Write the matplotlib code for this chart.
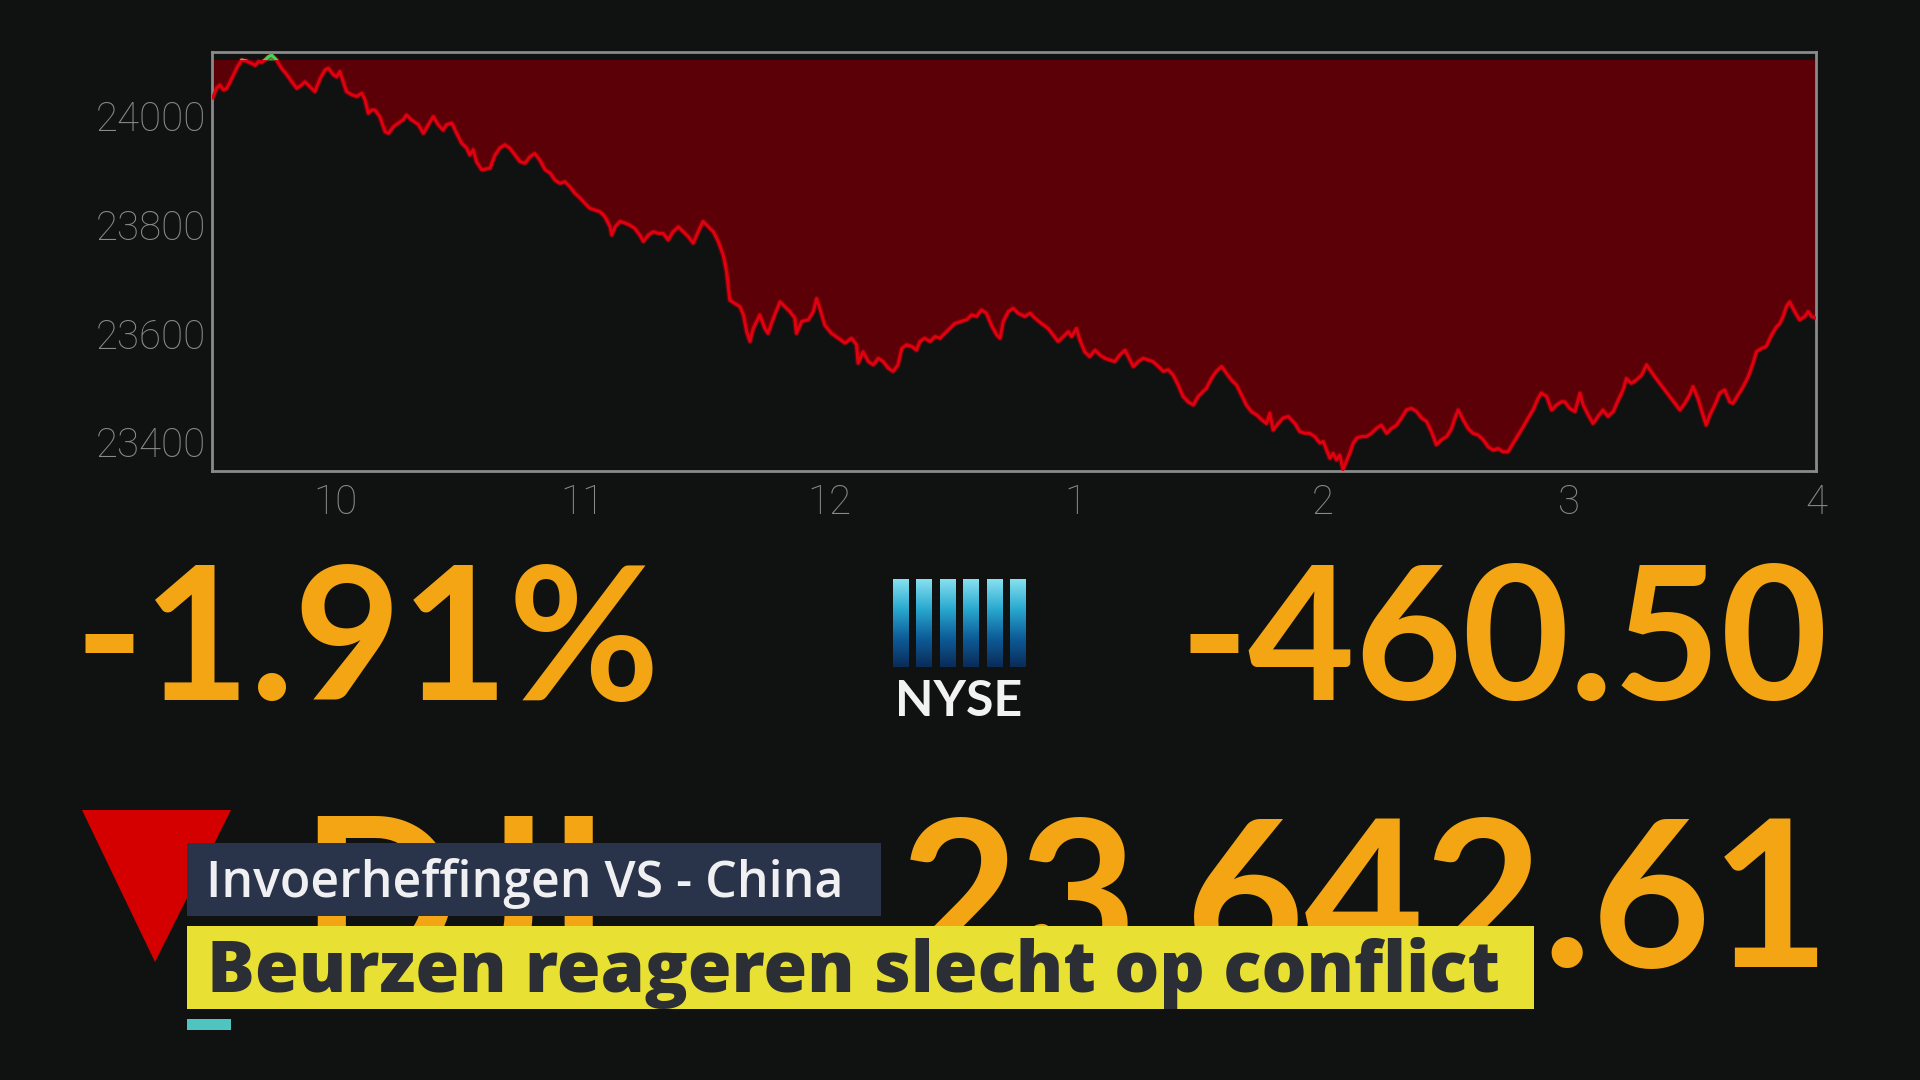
import numpy as np
import matplotlib
matplotlib.use('Agg')
import matplotlib.pyplot as plt
from matplotlib.patches import Rectangle, Polygon
from matplotlib.colors import LinearSegmentedColormap

# ---------------- data ----------------
# minutes after the 9:30 open, and Dow Jones level
minutes = [
    0.1, 1.1, 1.9, 2.8, 3.6, 4.8, 6.0, 7.2, 8.4, 9.6, 10.5, 11.3, 12.1, 12.9, 13.7, 14.5, 15.7, 16.9,
    18.2, 19.4, 20.6, 21.8, 22.6, 23.8, 25.0, 26.3, 27.5, 28.3, 29.5, 30.3, 31.1, 31.9, 32.7, 34.0,
    35.2, 36.4, 37.2, 38.0, 38.8, 39.6, 40.8, 42.1, 42.9, 44.1, 45.3, 46.5, 47.3, 48.5, 50.2, 51.4,
    52.6, 53.8, 55.0, 56.2, 57.0, 58.3, 59.5, 60.7, 61.9, 62.7, 63.5, 64.3, 65.6,
    67.6, 68.8, 70.0, 71.2, 72.4, 73.7, 74.9, 76.1, 77.3, 78.5, 79.7, 81.0, 82.2, 83.4, 84.6, 85.8,
    87.0, 88.2, 89.5, 90.7, 91.9, 93.1, 94.3, 95.5, 96.8, 97.2, 98.0, 99.2, 100.4, 101.6, 102.8,
    104.0, 104.9, 106.1, 107.3, 108.5, 109.7, 110.9, 112.1, 113.4, 114.6, 115.8, 117.0, 118.2,
    119.4, 120.7, 121.9, 123.1, 124.3, 125.1, 125.9, 127.1, 128.4, 129.2, 130.0, 130.8,
    131.6, 133.2, 134.4, 135.2, 136.5, 138.1, 139.3, 140.5, 141.7, 142.1, 143.4, 145.0, 146.2,
    147.0, 147.8, 149.0, 150.6, 152.3, 153.9, 155.5, 156.7, 157.1, 158.3, 159.6, 160.8, 162.0,
    163.2, 164.4, 165.6, 166.8, 167.7, 168.9, 170.1, 171.3, 172.1, 173.3, 174.5, 175.8, 177.0,
    178.2, 179.4, 180.6, 182.2, 183.5, 184.7, 185.9, 187.1, 188.3, 189.5, 190.8, 191.6, 192.4,
    193.6, 194.8, 196.0,
    197.6, 198.9, 200.1, 201.7, 203.3, 204.5, 205.7, 207.0, 208.2, 209.0, 210.2, 211.0, 212.2,
    213.4, 214.7, 215.9, 217.1, 218.3, 219.5, 220.7, 222.0, 223.2, 224.0, 225.2, 226.4, 227.6,
    228.8, 230.1, 231.3, 232.5, 233.7, 234.9, 236.1, 237.3, 238.6, 239.8, 240.6, 241.8, 243.0,
    244.2, 245.5, 246.7, 247.9, 249.1, 250.3, 251.5, 252.7, 254.0, 255.2, 256.4, 257.2, 258.0,
    259.2, 260.4, 261.7,
    263.3, 264.5, 265.7, 266.9, 268.1, 269.4, 270.2, 271.0, 271.8, 272.6, 273.4, 274.2, 275.0,
    275.8, 276.6, 277.5, 278.3, 279.5, 280.7, 281.9, 283.1, 284.3, 285.6, 286.8, 288.0, 289.2,
    290.4, 291.6, 292.9, 294.1, 295.3, 296.5, 297.7, 298.9, 300.2, 301.4, 302.2, 303.0, 304.2,
    305.4, 306.6, 307.8, 309.1, 310.3, 311.5, 312.7, 313.9, 315.1, 316.4, 317.6, 318.8, 320.0,
    321.2, 322.4, 323.2, 324.5, 325.7, 326.9, 328.1,
    328.9, 330.1, 331.4, 332.6, 333.4, 334.6, 335.8, 337.0, 338.2, 339.4, 340.7, 341.9, 343.1,
    343.9, 345.1, 346.3, 347.6, 348.8, 349.6, 350.8, 352.0, 353.2, 354.4, 355.7, 356.9, 358.1,
    359.3, 360.1, 361.3, 362.5, 363.3, 364.2, 365.4, 366.6, 367.8, 369.0, 369.8, 371.1, 372.3,
    373.5, 374.7, 375.5, 376.7, 377.9, 379.2, 380.4, 381.2, 382.0, 382.8, 383.6, 384.8, 386.0,
    387.3, 388.1, 388.9, 390.0,
]
values = [
    24033, 24051, 24057, 24048, 24051, 24069, 24088, 24103, 24101, 24097, 24093, 24100, 24099, 24103, 24109, 24112, 24103, 24088,
    24076, 24063, 24051, 24057, 24063, 24054, 24045, 24069, 24085, 24088, 24076, 24072, 24082, 24063, 24045, 24039,
    24036, 24042, 24030, 24005, 24011, 24011, 23999, 23971, 23968, 23980, 23987, 23993, 24002, 23993, 23984, 23968,
    23984, 23999, 23984, 23974, 23984, 23987, 23968, 23950, 23941, 23928, 23938, 23916, 23901,
    23904, 23928, 23941, 23947, 23941, 23928, 23916, 23913, 23925, 23931, 23919, 23901, 23895, 23882, 23876, 23879,
    23870, 23858, 23849, 23839, 23830, 23827, 23824, 23815, 23796, 23781, 23796, 23806, 23803, 23799, 23793,
    23781, 23769, 23781, 23787, 23784, 23784, 23772, 23787, 23796, 23787, 23778, 23766, 23787,
    23806, 23796, 23787, 23769, 23744, 23714, 23661, 23655, 23649, 23634, 23603, 23585,
    23609, 23634, 23609, 23600, 23628, 23658, 23649, 23640, 23628, 23600, 23622, 23625, 23640,
    23664, 23646, 23615, 23600, 23591, 23582, 23591, 23579, 23545, 23566, 23548, 23542, 23554,
    23548, 23536, 23530, 23542, 23572, 23579, 23576, 23569, 23585, 23591, 23585, 23594, 23591,
    23600, 23609, 23618, 23622, 23625, 23634, 23631, 23643, 23637, 23615, 23597, 23591, 23622,
    23640, 23646, 23637,
    23631, 23637, 23628, 23618, 23609, 23597, 23585, 23594, 23603, 23594, 23609, 23588, 23566,
    23557, 23569, 23560, 23554, 23551, 23548, 23560, 23569, 23551, 23539, 23548, 23554, 23551,
    23548, 23539, 23530, 23533, 23523, 23505, 23484, 23474, 23468, 23484, 23490, 23499, 23517,
    23530, 23539, 23526, 23514, 23505, 23487, 23468, 23456, 23450, 23441, 23434, 23453, 23422,
    23434, 23444, 23447,
    23434, 23419, 23416, 23416, 23410, 23398, 23401, 23385, 23370, 23379, 23367, 23376, 23349,
    23364, 23379, 23398, 23407, 23410, 23410, 23416, 23425, 23431, 23416, 23425, 23431, 23444,
    23459, 23462, 23456, 23444, 23438, 23419, 23395, 23404, 23410, 23425, 23444, 23459, 23441,
    23425, 23416, 23413, 23404, 23391, 23385, 23388, 23382, 23382, 23398, 23413, 23428, 23444,
    23459, 23480, 23490, 23484, 23459, 23468, 23474,
    23474, 23462, 23456, 23490, 23468, 23450, 23434, 23447, 23459, 23447, 23456, 23477, 23496,
    23517, 23508, 23514, 23523, 23542, 23533, 23520, 23508, 23496, 23484, 23471, 23459, 23471,
    23487, 23502, 23480, 23450, 23431, 23450, 23468, 23490, 23496, 23474, 23471, 23487, 23502,
    23520, 23545, 23566, 23572, 23576, 23597, 23612, 23618, 23631, 23649, 23658, 23640, 23625,
    23631, 23640, 23631, 23628,
]
prev_close = 24103.11
y_ticks = [23400, 23600, 23800, 24000]
x_ticks = [10, 11, 12, 13, 14, 15, 16]
x_tick_labels = ['10', '11', '12', '1', '2', '3', '4']
pct_change = '-1.91%'
pt_change = '-460.50'
index_name = 'DJI'
index_level = '23,642.61'
exchange = 'NYSE'
topic = 'Invoerheffingen VS - China'
headline = 'Beurzen reageren slecht op conflict'

# ---------------- style ----------------
plt.rcParams['font.family'] = ['Lato', 'DejaVu Sans']
BG = '#101211'
ORANGE = '#f3a514'
W, H = 1920, 1080

hours = 9.5 + np.array(minutes) / 60.0
vals = np.array(values, dtype=float)

fig = plt.figure(figsize=(19.2, 10.8), dpi=100, facecolor=BG)

# ---------------- chart ----------------
ax = fig.add_axes([212 / W, 1 - 471 / H, (1816 - 212) / W, (471 - 52) / H])
ax.set_facecolor(BG)
ax.fill_between(hours, vals, prev_close, where=vals <= prev_close, interpolate=True,
                color='#5a0006', lw=0, zorder=1)
ax.fill_between(hours, vals, prev_close, where=vals >= prev_close, interpolate=True,
                color='#2fb24a', lw=0, zorder=1)
ax.plot(hours, vals, color='#b0000c', lw=4.0, alpha=0.45, zorder=2, solid_joinstyle='round')
ax.plot(hours, vals, color='#e0000f', lw=2.2, zorder=3, solid_joinstyle='round')
gl, = ax.plot(hours, vals, color='#3fd45a', lw=2.3, zorder=4)
gl.set_clip_path(Rectangle((9.5, prev_close), 6.5, 200, transform=ax.transData))

ax.set_xlim(9.5, 16)
ax.set_ylim(23346.6, 24117.8)
ax.set_xticks(x_ticks)
ax.set_xticklabels(x_tick_labels)
ax.set_yticks(y_ticks)
ax.set_yticklabels([str(v) for v in y_ticks])
ax.tick_params(axis='both', length=0, colors='#8a8a8a', labelsize=29)
ax.tick_params(axis='x', pad=9)
ax.tick_params(axis='y', pad=4)
for lab in ax.get_xticklabels() + ax.get_yticklabels():
    lab.set_family(['Roboto', 'DejaVu Sans'])
    lab.set_fontweight('light')
for sp in ax.spines.values():
    sp.set_color('#8a8a8a')
    sp.set_linewidth(2)

# ---------------- overlay (ticker board + lower third) ----------------
ov = fig.add_axes([0, 0, 1, 1], zorder=5)
ov.set_xlim(0, W)
ov.set_ylim(H, 0)
ov.axis('off')
ov.patch.set_alpha(0)

ov.text(367, 700, pct_change, color=ORANGE, fontsize=133, fontweight='bold',
        ha='center', va='baseline', zorder=2)
ov.text(1828, 700, pt_change, color=ORANGE, fontsize=133, fontweight='bold',
        ha='right', va='baseline', zorder=2)

# NYSE logo
cmap = LinearSegmentedColormap.from_list('nyse', ['#86e0f0', '#2aaad0', '#0d5e9a', '#0a2c58'])
grad = np.linspace(0, 1, 100).reshape(-1, 1)
bw, gap, x0 = 16, 7.4, 893
for i in range(6):
    xl = x0 + i * (bw + gap)
    ov.imshow(grad, cmap=cmap, extent=(xl, xl + bw, 667, 579), origin='upper',
              aspect='auto', zorder=2)
ov.text(959, 716, exchange, color='#f2f2f2', fontsize=36, fontweight='bold',
        ha='center', va='baseline', zorder=2)

# index line (partly covered by the lower third)
ov.add_patch(Polygon([(82, 810), (231, 810), (155, 962)], closed=True,
                     color='#d40000', lw=0, zorder=2))
ov.text(300, 967, index_name, color=ORANGE, fontsize=150, fontweight='bold',
        ha='left', va='baseline', zorder=2)
ov.text(1830, 967, index_level, color=ORANGE, fontsize=148, fontweight='bold',
        ha='right', va='baseline', zorder=2)

# lower third
ov.add_patch(Rectangle((187, 843), 694, 73, color='#29344a', lw=0, zorder=6))
ov.text(206, 897, topic, color='#f0f0f2', fontsize=36, fontweight='semibold',
        family=['Open Sans', 'Lato', 'DejaVu Sans'],
        ha='left', va='baseline', zorder=7)
ov.add_patch(Rectangle((187, 926), 1347, 83, color='#e8e033', lw=0, zorder=6))
ov.text(207, 992, headline, color='#2c2e35', fontsize=51, fontweight='extra bold',
        family=['Open Sans', 'Lato', 'DejaVu Sans'],
        ha='left', va='baseline', zorder=7)
ov.add_patch(Rectangle((187, 1019), 44, 11, color='#4ec5c1', lw=0, zorder=6))

ov.set_xlim(0, W)
ov.set_ylim(H, 0)

fig.savefig('out.png', dpi=100, facecolor=BG)
